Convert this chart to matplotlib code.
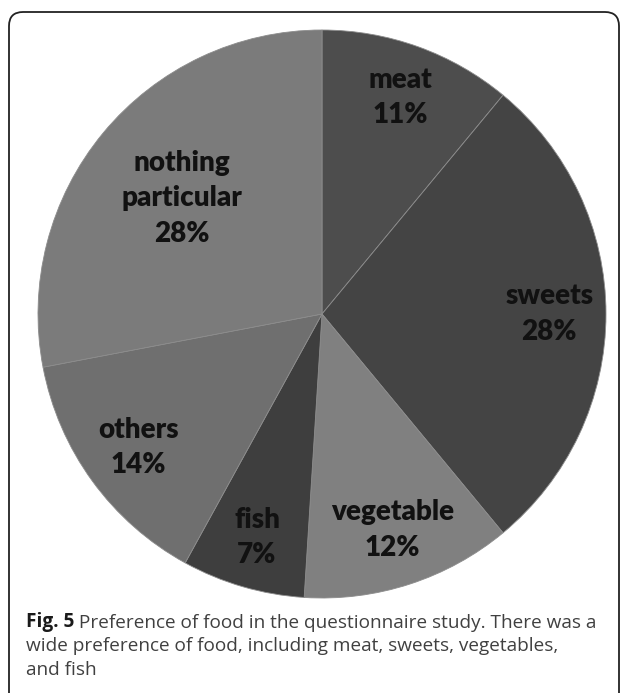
import numpy as np
import matplotlib
matplotlib.use("Agg")
import matplotlib.pyplot as plt
from matplotlib.patches import FancyBboxPatch

categories = ["meat", "sweets", "vegetable", "fish", "others", "nothing\nparticular"]
values = [11, 28, 12, 7, 14, 28]
colors = ["#4d4d4d", "#444444", "#808080", "#3e3e3e", "#6f6f6f", "#7b7b7b"]
label_dist = [0.81, 0.80, 0.80, 0.82, 0.80, 0.64]

W, H = 627, 693
fig = plt.figure(figsize=(W / 100, H / 100), dpi=100)
ax = fig.add_axes([0, 0, 1, 1])

cx, cy, R = 322, H - 314, 284
wedges, _ = ax.pie(values, colors=colors, startangle=90, counterclock=False,
                   center=(cx, cy), radius=R, frame=True,
                   wedgeprops=dict(edgecolor="#8c8c8c", linewidth=0.6))
ax.set_xlim(0, W)
ax.set_ylim(0, H)
ax.set_aspect("equal")
ax.axis("off")

total = sum(values)
for w, cat, v, d in zip(wedges, categories, values, label_dist):
    ang = np.deg2rad((w.theta1 + w.theta2) / 2)
    x = cx + d * R * np.cos(ang)
    y = cy + d * R * np.sin(ang)
    ax.text(x, y, f"{cat}\n{round(100 * v / total)}%", ha="center", va="center",
            fontsize=20, fontweight="heavy", family="Lato", color="#111111",
            linespacing=1.45)

border = FancyBboxPatch((9, -30), 610, H - 12 + 30, boxstyle="round,pad=0,rounding_size=14",
                        fill=False, edgecolor="#222222", linewidth=1.3, clip_on=False)
ax.add_patch(border)

fs = 13.7
t1 = ax.text(26, H - 627, "Fig. 5", fontsize=fs, fontweight="bold", family="Open Sans",
             color="#1a1a1a", va="baseline")
ax.annotate(" Preference of food in the questionnaire study. There was a",
            xy=(1, 0), xycoords=t1, va="bottom", ha="left",
            fontsize=fs, family="Open Sans", color="#404040")
ax.text(26, H - 651, "wide preference of food, including meat, sweets, vegetables,",
        fontsize=fs, family="Open Sans", color="#404040", va="baseline")
ax.text(26, H - 675, "and fish", fontsize=fs, family="Open Sans", color="#404040", va="baseline")

fig.savefig("out.png", dpi=100)
